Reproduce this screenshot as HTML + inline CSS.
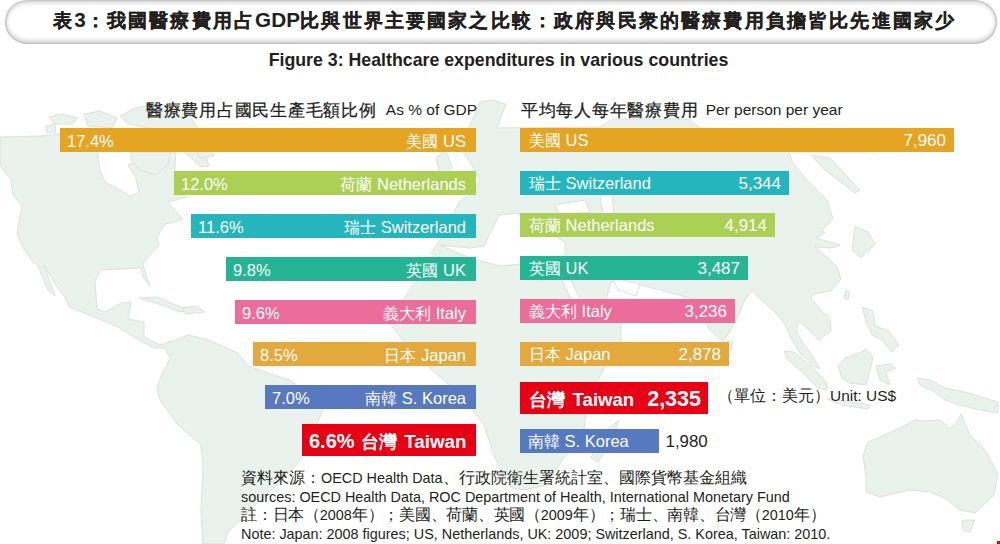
<!DOCTYPE html>
<html><head><meta charset="utf-8">
<style>
html,body{margin:0;padding:0;background:#fff;}
body{width:1000px;height:544px;position:relative;overflow:hidden;font-family:"Liberation Sans",sans-serif;color:#231f20;}
.abs{position:absolute;white-space:nowrap;}
#map{position:absolute;left:0;top:0;}
.pill{position:absolute;left:4.5px;top:-0.5px;width:992.5px;height:44.5px;border-radius:22.5px;background:#fff;box-shadow:inset 0 -3px 5px 0px rgba(0,0,0,0.22), inset 0 3px 4px 0px rgba(0,0,0,0.16), inset 0 0 2px 0.5px rgba(0,0,0,0.14);}
.title{position:absolute;left:53px;top:8px;font-size:20.7px;letter-spacing:0.1px;font-weight:bold;color:#231f20;line-height:24px;}
.title .tc{font-size:19px;letter-spacing:2.16px;-webkit-text-stroke:0.2px #231f20;position:relative;top:0px;}
.sub{position:absolute;left:0;width:997px;text-align:center;top:49px;font-size:17.75px;font-weight:bold;color:#231f20;line-height:22px;}
.hdr{position:absolute;top:100px;font-size:15.5px;line-height:22px;}
.hdr .e{position:relative;top:-1px;}
.hdr .c{font-size:17px;letter-spacing:0.73px;margin-right:5px;-webkit-text-stroke:0.25px #231f20;}
.bar{position:absolute;height:24px;color:#fff;font-size:16.5px;}
.bar .l{position:absolute;left:7px;top:3px;line-height:20px;white-space:nowrap;}
.bar .r{position:absolute;right:10px;top:3px;line-height:20px;white-space:nowrap;}
.bar .c{font-size:16px;}
.rb .l{left:9px;top:2px;}
.rb .r{right:8px;top:3px;font-size:17px;}
.big{height:31.5px;font-weight:bold;font-size:20px;}
.big .l,.big .r{top:5px;line-height:24px;}
.big .c{font-size:18px;}
.note{position:absolute;left:241px;font-size:14.4px;color:#231f20;line-height:18px;}
.note .c{font-size:16px;}
.n3 .c{letter-spacing:-0.25px;}
</style></head><body>
<svg id="map" width="1000" height="544" viewBox="0 0 1000 544"><g fill="#eaf2ee" stroke="#d9dfdb" stroke-width="0.9" stroke-linejoin="round"><path d="M0,165L0,137L40,136L60,134L98,150L98,160L100,170L105,182L120,190L130,196L139,193L136,178L128,165L140,160L150,152L176,152L174,180L187,197L176,200L168,202L183,219L175,222L165,224L157,237L159,246L150,255L143,264L145,272L150,286L143,277L141,268L121,269L101,270L95,281L97,309L105,312L121,303L131,302L128,319L144,322L144,337L160,345L175,340L188,335L209,340L238,353L248,366L292,381L323,410L310,440L298,463L274,488L255,505L241,520L228,532L224,544L203,544L201,511L203,466L201,445L177,424L160,400L157,389L160,379L170,358L165,348L154,348L139,340L118,327L102,320L69,307L66,299L56,285L44,265L55,296L48,290L38,266L33,262L22,246L17,233L22,206L13,195L11,180Z"/><path d="M120,116L135,108L150,105L172,105L188,112L196,126L203,140L205,152L209,166L201,167L184,152L170,140L150,128L128,124Z"/><path d="M131,152L170,152L168,165L155,175L140,170L131,160Z"/><path d="M49,117L62,114L78,118L72,124L55,124Z"/><path d="M46,126L55,124L56,132L47,133Z"/><path d="M84,114L100,111L117,118L112,128L88,126Z"/><path d="M196,150L210,148L214,156L200,158Z"/><path d="M139,298L157,297L178,306L196,310L180,312L165,306Z"/><path d="M182,308L196,306L205,312L186,314Z"/><path d="M459,146L470,125L480,102L492,100L506,104L497,128L600,127L614,119L688,119L700,128L950,135L940,150L860,152L789,152L792,161L805,178L827,200L833,219L822,230L825,233L816,238L840,245L831,248L815,247L828,258L837,267L841,279L831,291L813,294L811,299L825,314L830,319L831,331L819,340L812,333L799,321L796,331L803,343L812,355L820,369L813,366L799,352L791,338L784,323L775,312L758,297L752,290L745,300L735,323L723,342L710,330L700,310L694,299L660,290L640,285L611,282L606,300L621,323L621,340L605,367L590,395L587,400L586,415L584,429L567,453L556,470L543,486L523,490L512,488L503,477L494,455L485,428L486,428L476,414L461,395L432,370L410,350L391,325L400,305L413,285L443,259L431,253L440,240L444,233L459,202L473,193L480,180L470,162Z"/><path d="M436,158L446,150L452,168L441,178Z"/><path d="M619,420L612,440L598,462L591,458L600,435Z"/><path d="M855,226L868,232L875,244L861,258L852,250Z"/><path d="M811,155L830,158L860,190L855,193L825,170Z"/><path d="M846,290L850,292L848,300L844,298Z"/><path d="M862,307L873,311L875,326L889,331L899,345L892,352L882,340L872,335L866,321Z"/><path d="M838,366L845,358L861,352L866,349L873,357L870,371L866,385L849,383L842,378Z"/><path d="M876,366L890,364L896,368L886,372L890,385L880,380Z"/><path d="M784,351L794,352L811,366L827,383L827,390L818,388L801,371L787,359Z"/><path d="M827,399L845,401L870,405L868,409L842,405Z"/><path d="M917,378L930,380L945,388L965,392L985,398L998,402L998,413L980,410L960,405L945,400L935,392L920,385Z"/><path d="M863,455L868,442L880,437L900,428L915,420L925,421L940,420L950,428L955,425L961,414L970,435L985,450L998,474L994,495L975,513L960,510L945,498L930,492L910,490L880,497L866,492L866,478Z"/><path d="M962,520L975,520L970,532L963,530Z"/><path d="M728,340L733,342L731,350L726,348Z"/></g><g fill="#fff" stroke="#d9dfdb" stroke-width="0.9"><path d="M440,245L470,248L484,246L499,215L517,213L540,228L565,242L565,258L540,262L500,266L470,258Z"/><path d="M555,205L585,200L590,212L560,215Z"/><path d="M600,195L612,195L615,225L605,228Z"/><path d="M558,272L566,270L590,320L583,323Z"/><path d="M612,278L640,284L636,296L618,290Z"/></g></svg>
<div class="pill"></div>
<div class="title abs"><span class="tc">表</span>3<span class="tc">：我國醫療費用占</span>GDP<span class="tc">比與世界主要國家之比較：政府與民衆的醫療費用負擔皆比先進國家少</span></div>
<div class="sub abs">Figure 3: Healthcare expenditures in various countries</div>
<div class="hdr abs" style="left:146px;"><span class="c">醫療費用占國民生產毛額比例</span> <span class="e">As % of GDP</span></div>
<div class="hdr abs" style="left:521px;"><span class="c" style="margin-right:3px">平均每人每年醫療費用</span> <span class="e">Per person per year</span></div>
<div class="bar" style="left:60px;top:128px;width:416px;background:#e5a421"><span class="l">17.4%</span><span class="r"><span class="c">美國</span> US</span></div>
<div class="bar" style="left:174px;top:171px;width:302px;background:#abd054"><span class="l">12.0%</span><span class="r"><span class="c">荷蘭</span> Netherlands</span></div>
<div class="bar" style="left:191px;top:214px;width:285px;background:#24b6bc"><span class="l">11.6%</span><span class="r"><span class="c">瑞士</span> Switzerland</span></div>
<div class="bar" style="left:226px;top:257px;width:250px;background:#25b595"><span class="l">9.8%</span><span class="r"><span class="c">英國</span> UK</span></div>
<div class="bar" style="left:235px;top:300px;width:241px;background:#ec6d9a"><span class="l">9.6%</span><span class="r"><span class="c">義大利</span> Italy</span></div>
<div class="bar" style="left:253px;top:342px;width:223px;background:#e4a93d"><span class="l">8.5%</span><span class="r"><span class="c">日本</span> Japan</span></div>
<div class="bar" style="left:265px;top:385px;width:211px;background:#5779c0"><span class="l">7.0%</span><span class="r"><span class="c">南韓</span> S. Korea</span></div>
<div class="bar rb" style="left:520px;top:128px;width:434px;background:#e5a421"><span class="l"><span class="c">美國</span> US</span><span class="r">7,960</span></div>
<div class="bar rb" style="left:520px;top:171px;width:269px;background:#24b6bc"><span class="l"><span class="c">瑞士</span> Switzerland</span><span class="r">5,344</span></div>
<div class="bar rb" style="left:520px;top:213px;width:255px;background:#abd054"><span class="l"><span class="c">荷蘭</span> Netherlands</span><span class="r">4,914</span></div>
<div class="bar rb" style="left:520px;top:256px;width:228px;background:#25b595"><span class="l"><span class="c">英國</span> UK</span><span class="r">3,487</span></div>
<div class="bar rb" style="left:520px;top:299px;width:215px;background:#ec6d9a"><span class="l"><span class="c">義大利</span> Italy</span><span class="r">3,236</span></div>
<div class="bar rb" style="left:520px;top:342px;width:209px;background:#e4a93d"><span class="l"><span class="c">日本</span> Japan</span><span class="r">2,878</span></div>
<div class="bar big" style="left:302px;top:424px;width:174px;background:#e70013"><span class="l">6.6% <span class="c" style="margin-left:1px">台灣</span> <span style="font-size:18.8px;margin-left:1.5px">Taiwan</span></span></div>
<div class="bar big" style="left:520px;top:382px;width:188px;background:#e70013"><span class="l" style="left:9px"><span class="c">台灣</span> <span style="font-size:18.6px;margin-left:2px">Taiwan</span></span><span class="r" style="right:7px;font-size:21.5px">2,335</span></div>
<div class="bar rb" style="left:520px;top:429px;width:139px;background:#5779c0"><span class="l" style="left:8px"><span class="c">南韓</span> S. Korea</span></div>
<div class="abs" style="left:665.5px;top:432px;font-size:16.9px;line-height:20px;">1,980</div>
<div class="abs" style="left:718px;top:386px;font-size:15.45px;line-height:20px;"><span style="font-size:16px">（單位：美元）</span>Unit: US$</div>
<div class="note abs" style="top:469px;"><span class="c">資料來源：</span>OECD Health Data<span class="c">、行政院衛生署統計室、國際貨幣基金組織</span></div>
<div class="note abs" style="top:488px;">sources: OECD Health Data, ROC Department of Health, International Monetary Fund</div>
<div class="note abs n3" style="top:506px;"><span class="c">註：日本（</span>2008<span class="c">年）；美國、荷蘭、英國（</span>2009<span class="c">年）；瑞士、南韓、台灣（</span>2010<span class="c">年）</span></div>
<div class="note abs" style="top:525px;">Note: Japan: 2008 figures; US, Netherlands, UK: 2009; Switzerland, S. Korea, Taiwan: 2010.</div>
<div class="abs" style="left:997px;top:541px;width:3px;height:3px;background:#e8001a"></div>
</body></html>
